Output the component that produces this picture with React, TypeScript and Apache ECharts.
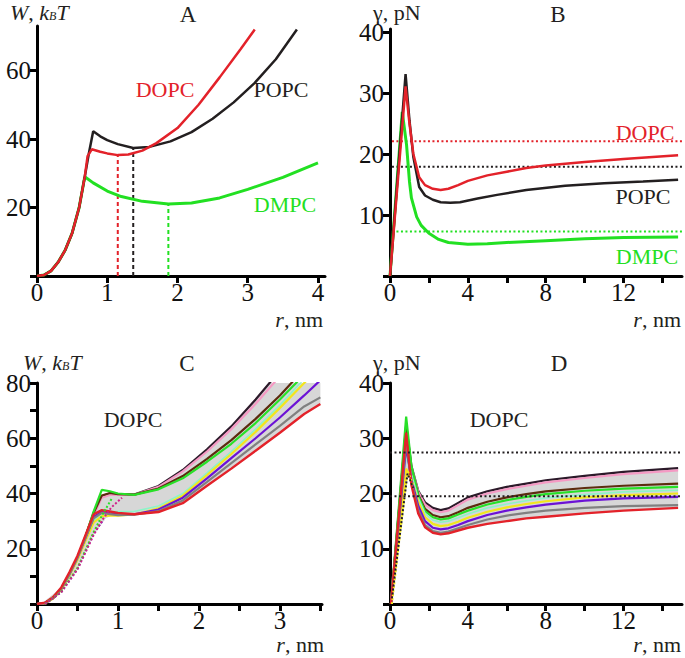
import React, { useEffect, useRef } from "react";
import * as echarts from "echarts";

// ---------- Panel A: W (kBT) vs r (nm) ----------
const aRedX = [0, 0.1, 0.2, 0.3, 0.4, 0.5, 0.6, 0.68, 0.72, 0.78, 0.9, 1.0, 1.15, 1.3, 1.5, 1.7, 2.0, 2.3, 2.6, 2.9, 3.1];
const aRedW = [0, 0.3, 1.5, 4, 7.5, 12.5, 20, 29, 35, 37, 36.3, 35.8, 35.3, 35.5, 36.6, 38.8, 43.2, 50, 58, 66.3, 72];
const aBlackX = [0, 0.1, 0.2, 0.3, 0.4, 0.5, 0.6, 0.68, 0.74, 0.8, 0.9, 1.0, 1.15, 1.37, 1.6, 1.9, 2.2, 2.5, 2.8, 3.1, 3.4, 3.7];
const aBlackW = [0, 0.3, 1.5, 4, 7.5, 12.5, 20, 29, 36, 42.3, 40.8, 39.7, 38.5, 37.4, 37.7, 39.3, 42, 45.9, 50.7, 56.4, 63.3, 72];
const aGreenX = [0, 0.1, 0.2, 0.3, 0.4, 0.5, 0.6, 0.68, 0.8, 1.0, 1.2, 1.5, 1.87, 2.2, 2.6, 3.0, 3.5, 4.0];
const aGreenW = [0, 0.3, 1.5, 4, 7.5, 12.5, 20, 29, 27.2, 24.8, 23.2, 21.8, 21, 21.3, 22.8, 25.3, 28.8, 33];
const aMinR = [1.15, 1.37, 1.87];
const aMinW = [35.3, 37.4, 21];

// ---------- Panel B: gamma (pN) vs r (nm) ----------
const bBlackX = [0, 0.8, 1.0, 1.2, 1.5, 1.8, 2.2, 2.6, 3.1, 3.6, 4.5, 5.5, 7, 9, 11, 13, 14.8];
const bBlackG = [0, 33.1, 25.5, 19.5, 14.6, 13.2, 12.5, 12.1, 12.0, 12.1, 12.7, 13.3, 14.1, 14.8, 15.2, 15.5, 15.8];
const bRedX = [0, 0.8, 1.0, 1.2, 1.5, 1.8, 2.2, 2.6, 3.0, 3.5, 4.0, 5, 6, 7, 8, 10, 12, 14.8];
const bRedG = [0, 31.1, 25, 20, 16.2, 14.9, 14.3, 14.1, 14.3, 14.9, 15.6, 16.5, 17.1, 17.7, 18.1, 18.7, 19.2, 19.8];
const bGreenX = [0, 0.63, 0.85, 1.0, 1.1, 1.37, 1.6, 2.0, 2.5, 3.0, 4.0, 5, 6, 8, 10, 12, 14.8];
const bGreenG = [0, 26.9, 21.5, 15.5, 12.8, 9.7, 8.3, 7.0, 6.0, 5.5, 5.2, 5.3, 5.5, 5.8, 6.1, 6.3, 6.4];
const bRefG = [22.1, 17.9, 7.3];

// ---------- Panel C: W vs r, DOPC variants ----------
const cX = [0, 0.1, 0.2, 0.3, 0.4, 0.5, 0.6, 0.7, 0.8, 0.9, 1.0, 1.2, 1.5, 1.8, 2.1, 2.4, 2.7, 3.0, 3.3, 3.5];
const cBlack = [0, 0.4, 2.2, 5.5, 10.8, 16.8, 24.5, 33, 39, 40, 39.7, 39.6, 42.7, 48.5, 56, 64.3, 74, 84.5, 96, 104];
const cPink = [0, 0.3, 2.0, 5.2, 10.3, 16, 23.5, 32, 38.5, 39.5, 39.5, 39.5, 42.4, 48, 55.2, 63.3, 72.5, 82.5, 93.5, 101];
const cBrown = [0, 0.4, 2.2, 5.5, 10.8, 16.8, 24.5, 33, 39.3, 40.2, 39.8, 39.6, 41.8, 46.3, 52.5, 59.3, 67, 75.5, 85, 92];
const cGreen = [0, 0.4, 2.2, 5.5, 10.8, 16.8, 24.5, 33.5, 41.3, 40.8, 40, 39.5, 41.5, 45.5, 51.5, 58, 65.5, 74, 83, 90];
const cCyan = [0, 0.3, 2.0, 5.2, 10.3, 16, 23, 30, 33, 33.5, 33.5, 33.5, 35.5, 40, 47.5, 55.2, 63.3, 72, 81.5, 88];
const cYellow = [0, 0.3, 2.0, 5.2, 10.3, 16, 23, 29.5, 31.8, 32, 32, 32.4, 34.6, 39.2, 46.7, 54.3, 62.3, 71, 80, 86];
const cPurple = [0, 0.4, 2.2, 5.5, 10.8, 16.8, 24, 31.5, 33.3, 32.8, 32.5, 32.5, 34.2, 38.5, 45.5, 52.8, 60, 67.5, 75.5, 81];
const cGray = [0, 0.4, 2.2, 5.5, 10.8, 16.8, 24, 31, 33, 32.5, 32.2, 32.3, 33.6, 37.5, 44.2, 51, 57.8, 64.5, 71.5, 74.8];
const cRed = [0, 0.5, 2.5, 6, 11.5, 17.5, 25, 32.5, 34, 33.5, 33, 32.5, 33.3, 36.5, 42.8, 49, 55.5, 62, 68.8, 72.4];
const cDotX = [0.1, 0.3, 0.5, 0.7, 0.82, 0.92, 1.05];
const cDotYellow = [0, 4.5, 13, 26, 31];
const cDotPurple = [0, 4.3, 12.7, 25.5, 30.5];
const cDotGreen = [0, 4.5, 13, 26, 33, 38];
const cDotMagenta = [0, 4.3, 12.5, 25, 31, 35, 38.5];
const cBandUpX = [0.05, 0.3, 0.5, 0.6, 0.7, 0.8, 0.9, 1.0, 1.2, 1.5, 1.8, 2.1, 2.4, 2.7, 2.86, 3.5];
const cBandUpW = [0, 6, 17.5, 25, 33, 39, 40, 39.7, 39.6, 42.7, 48.5, 56, 64.3, 74, 80, 80];
const cBandLowX = [0.1, 0.3, 0.5, 0.7, 0.85, 1.0, 1.2, 1.5, 1.8, 2.1, 2.4, 2.7, 3.0, 3.3, 3.5];
const cBandLowW = [0, 4.3, 12.5, 25, 31, 33, 32.5, 33.3, 36.5, 42.8, 49, 55.5, 62, 68.8, 72.4];

// ---------- Panel D: gamma vs r, DOPC variants ----------
const dX = [0.05, 0.83, 1.1, 1.45, 1.8, 2.2, 2.6, 3.0, 3.5, 4, 5, 6, 7, 8, 10, 12, 14.8];
const dBlack = [0, 32.4, 25, 20.5, 18.4, 17.4, 17.0, 17.3, 18.3, 19.3, 20.4, 21.2, 21.8, 22.4, 23.2, 23.9, 24.6];
const dPink = [0, 31.8, 24.8, 20.3, 18.0, 17.0, 16.6, 16.9, 17.9, 18.9, 20.0, 20.8, 21.4, 22.0, 22.8, 23.5, 24.2];
const dBrown = [0, 32.0, 24.6, 19.8, 17.2, 16.1, 15.7, 15.9, 16.6, 17.4, 18.5, 19.3, 19.9, 20.4, 21.0, 21.4, 21.8];
const dGreen = [0, 33.9, 25, 19.6, 16.8, 15.7, 15.3, 15.5, 16.2, 16.9, 18.0, 18.8, 19.4, 19.9, 20.5, 20.9, 21.2];
const dCyan = [0, 27, 23.5, 19.2, 16.4, 15.2, 14.8, 15.0, 15.6, 16.3, 17.4, 18.1, 18.7, 19.2, 19.8, 20.3, 20.6];
const dYellow = [0, 24.5, 22.5, 18.5, 15.7, 14.5, 14.1, 14.3, 14.9, 15.6, 16.7, 17.5, 18.1, 18.6, 19.3, 19.7, 20.0];
const dPurple = [0, 28.5, 22.5, 17.8, 15.0, 13.8, 13.5, 13.7, 14.3, 15.0, 16.1, 16.9, 17.5, 18.0, 18.7, 19.1, 19.4];
const dGray = [0, 29.5, 22, 17, 14.3, 13.2, 12.9, 13.1, 13.7, 14.3, 15.3, 16.0, 16.5, 16.9, 17.4, 17.7, 17.9];
const dRed = [0, 31, 21.5, 16.4, 13.9, 12.9, 12.6, 12.8, 13.3, 13.8, 14.5, 15.0, 15.5, 15.8, 16.4, 16.9, 17.4];
const dDotX = [0.1, 0.9, 1.2];
const dDotBlack = [1, 23.6, 21];
const dDotYellow = [0, 24.2, 21.5];
const dRefG = [27.4, 19.5];
const dBandUpX = [0.05, 0.73, 0.83, 1.1, 1.45, 1.8, 2.2, 2.6, 3.0, 3.5, 4, 5, 6, 7, 8, 10, 12, 14.8];
const dBandUpG = [3, 31, 32.4, 25, 20.5, 18.4, 17.4, 17.0, 17.3, 18.3, 19.3, 20.4, 21.2, 21.8, 22.4, 23.2, 23.9, 24.6];
const dBandLowX = [0.1, 0.9, 1.1, 1.45, 1.8, 2.2, 2.6, 3.0, 3.5, 4, 5, 6, 7, 8, 10, 12, 14.8];
const dBandLowG = [0, 24, 21.5, 16.4, 13.9, 12.9, 12.6, 12.8, 13.3, 13.8, 14.5, 15.0, 15.5, 15.8, 16.4, 16.9, 17.4];

// ---------- ticks ----------
const aXTicks = [0, 1, 2, 3, 4];
const aYTicks = [0, 20, 40, 60];
const aYLabels = [20, 40, 60];
const bXTicks = [0, 2, 4, 6, 8, 10, 12, 14];
const bXLabels = [0, 4, 8, 12];
const bYTicks = [0, 10, 20, 30, 40];
const bYLabels = [10, 20, 30, 40];
const cXTicks = [0, 0.5, 1, 1.5, 2, 2.5, 3, 3.5];
const cXLabels = [0, 1, 2, 3];
const cYTicks = [0, 10, 20, 30, 40, 50, 60, 70, 80];
const cYLabels = [20, 40, 60, 80];

const COL = {
  red: "#e3222a",
  black: "#231f20",
  green: "#22e022",
  cBlack: "#2c1a2a",
  pink: "#f59ac4",
  brown: "#5c2c0e",
  cGreen: "#28e028",
  cyan: "#8cf5c8",
  yellow: "#f2e61c",
  purple: "#6c12d6",
  gray: "#808080",
  fill: "#d7d7d7",
};
const FONT = "Liberation Serif";

const zip = (xs: number[], ys: number[]) => ys.map((y, i) => [xs[i], y]);

function line(g: number, data: number[][], color: string, width = 2.5, type: any = "solid", z = 3) {
  return {
    type: "line",
    xAxisIndex: g,
    yAxisIndex: g,
    data,
    showSymbol: false,
    symbol: "none",
    silent: true,
    clip: true,
    z,
    lineStyle: { color, width, type },
  };
}

function band(g: number, up: number[][], low: number[][]) {
  return {
    type: "custom",
    xAxisIndex: g,
    yAxisIndex: g,
    silent: true,
    z: 1,
    data: [[0, 0]],
    renderItem: (_p: any, api: any) => {
      const pts = up.map((p) => api.coord(p)).concat(low.slice().reverse().map((p) => api.coord(p)));
      return { type: "polygon", shape: { points: pts }, style: { fill: COL.fill } };
    },
  };
}

function xAxis(g: number, max: number, ticks: number[], labels: number[]) {
  return {
    gridIndex: g,
    type: "value",
    min: 0,
    max,
    axisLine: { show: true, onZero: false, lineStyle: { color: "#000", width: 3 } },
    axisTick: { show: true, length: 7, customValues: ticks, lineStyle: { color: "#000", width: 3 } },
    axisLabel: { customValues: labels, color: "#111", fontFamily: FONT, fontSize: 25, margin: 6, lineHeight: 20 },
    splitLine: { show: false },
  };
}
function yAxis(g: number, max: number, ticks: number[], labels: number[]) {
  return {
    gridIndex: g,
    type: "value",
    min: 0,
    max,
    axisLine: { show: true, onZero: false, lineStyle: { color: "#000", width: 3 } },
    axisTick: { show: true, length: 7, customValues: ticks, lineStyle: { color: "#000", width: 3 } },
    axisLabel: { customValues: labels, color: "#111", fontFamily: FONT, fontSize: 25, margin: 6 },
    splitLine: { show: false },
  };
}

function txt(x: number, y: number, text: string, fill: string, size = 22, align = "center") {
  return {
    type: "text",
    x,
    y,
    silent: true,
    style: { text, fill, font: `${size}px ${FONT}`, align, verticalAlign: "middle" },
  };
}
const richStyle = {
  i: { fontStyle: "italic", fontSize: 22, fontFamily: FONT, color: "#231f20", lineHeight: 20 },
  n: { fontSize: 22, fontFamily: FONT, color: "#231f20", lineHeight: 20 },
  s: { fontStyle: "italic", fontSize: 12, fontFamily: FONT, color: "#231f20", verticalAlign: "bottom", lineHeight: 20 },
};
function rich(x: number, y: number, text: string, align = "left") {
  return {
    type: "text",
    x,
    y,
    silent: true,
    style: { text, rich: richStyle, align, verticalAlign: "middle", fill: "#231f20", font: `22px ${FONT}` },
  };
}

export default function App() {
  const ref = useRef<HTMLDivElement>(null);
  useEffect(() => {
    if (!ref.current) return;
    const chart = echarts.init(ref.current, undefined, { renderer: "svg" });

    const aVert = aMinR.map((r, i) => [[r, 0], [r, aMinW[i]]]);
    const aVertCol = [COL.red, COL.black, COL.green];
    const bRefCol = [COL.red, COL.black, COL.green];

    const option: any = {
      animation: false,
      backgroundColor: "#fff",
      grid: [
        { left: 37, top: 26, width: 288, height: 250 },
        { left: 390, top: 29, width: 292, height: 247 },
        { left: 37, top: 383, width: 285, height: 221 },
        { left: 390, top: 383, width: 292, height: 221 },
      ],
      xAxis: [
        xAxis(0, 4.1, aXTicks, aXTicks),
        xAxis(1, 15, bXTicks, bXLabels),
        xAxis(2, 3.52, cXTicks, cXLabels),
        xAxis(3, 15, bXTicks, bXLabels),
      ],
      yAxis: [
        yAxis(0, 73, aYTicks, aYLabels),
        yAxis(1, 40.5, bYTicks, bYLabels),
        yAxis(2, 80, cYTicks, cYLabels),
        yAxis(3, 40, bYTicks, bYLabels),
      ],
      series: [
        // A
        ...aVert.map((d, i) => line(0, d, aVertCol[i], 2, [4, 3], 2)),
        line(0, zip(aGreenX, aGreenW), COL.green, 3),
        line(0, zip(aBlackX, aBlackW), COL.black, 2.5),
        line(0, zip(aRedX, aRedW), COL.red, 2.5),
        // B
        ...bRefG.map((g, i) => line(1, [[0.1, g], [15, g]], bRefCol[i], 2, [2, 2.5], 2)),
        line(1, zip(bGreenX, bGreenG), COL.green, 3),
        line(1, zip(bBlackX, bBlackG), COL.black, 2.5),
        line(1, zip(bRedX, bRedG), COL.red, 2.5),
        // C
        band(2, zip(cBandUpX, cBandUpW), zip(cBandLowX, cBandLowW)),
        line(2, zip(cX, cBlack), COL.cBlack, 2.2),
        line(2, zip(cX, cPink), COL.pink, 2.2),
        line(2, zip(cX, cBrown), COL.brown, 2.2),
        line(2, zip(cX, cGreen), COL.cGreen, 2.2),
        line(2, zip(cX, cCyan), COL.cyan, 1.6),
        line(2, zip(cX, cYellow), COL.yellow, 2.2),
        line(2, zip(cX, cPurple), COL.purple, 2.2),
        line(2, zip(cX, cGray), COL.gray, 2.2),
        line(2, zip(cX, cRed), COL.red, 2.4),
        line(2, zip(cDotX, cDotYellow), COL.yellow, 2, [2, 2], 4),
        line(2, zip(cDotX, cDotPurple), COL.purple, 2, [2, 2], 4),
        line(2, zip(cDotX, cDotGreen), COL.cGreen, 2, [2, 2], 4),
        line(2, zip(cDotX, cDotMagenta), "#d0208a", 2, [2, 2], 4),
        // D
        band(3, zip(dBandUpX, dBandUpG), zip(dBandLowX, dBandLowG)),
        ...dRefG.map((g) => line(3, [[0, g], [15, g]], COL.black, 2, [2, 2.5], 5)),
        line(3, zip(dX, dBlack), COL.cBlack, 2.2),
        line(3, zip(dX, dPink), COL.pink, 2.2),
        line(3, zip(dX, dBrown), COL.brown, 2.2),
        line(3, zip(dX, dGreen), COL.cGreen, 2.2),
        line(3, zip(dX, dCyan), COL.cyan, 1.6),
        line(3, zip(dX, dYellow), COL.yellow, 2.2),
        line(3, zip(dX, dPurple), COL.purple, 2.2),
        line(3, zip(dX, dGray), COL.gray, 2.2),
        line(3, zip(dX, dRed), COL.red, 2.4),
        line(3, zip(dDotX, dDotYellow), COL.yellow, 2, [2, 2], 4),
        line(3, zip(dDotX, dDotBlack), COL.black, 2, [2, 2], 4),
      ],
      graphic: [
        rich(10, 12, "{i|W}{n|, }{i|k}{s|B}{i|T}"),
        rich(23, 362, "{i|W}{n|, }{i|k}{s|B}{i|T}"),
        rich(373, 12, "{n|γ, pN}"),
        rich(373, 362, "{n|γ, pN}"),
        rich(323, 319, "{i|r}{n|, nm}", "right"),
        rich(681, 319, "{i|r}{n|, nm}", "right"),
        rich(324, 644, "{i|r}{n|, nm}", "right"),
        rich(681, 644, "{i|r}{n|, nm}", "right"),
        txt(188, 14, "A", "#231f20", 23),
        txt(558, 14, "B", "#231f20", 23),
        txt(187, 363, "C", "#231f20", 23),
        txt(559, 363, "D", "#231f20", 23),
        txt(165, 89, "DOPC", COL.red, 22),
        txt(281, 89, "POPC", COL.black, 22),
        txt(285, 204, "DMPC", COL.green, 22),
        txt(645, 132, "DOPC", COL.red, 22),
        txt(643, 196, "POPC", COL.black, 22),
        txt(647, 256, "DMPC", COL.green, 22),
        txt(133, 419, "DOPC", COL.black, 22),
        txt(499, 419, "DOPC", COL.black, 22),
      ],
    };
    chart.setOption(option);
    return () => chart.dispose();
  }, []);
  return <div ref={ref} style={{ position: "fixed", left: 0, top: 0, width: 685, height: 658 }} />;
}
